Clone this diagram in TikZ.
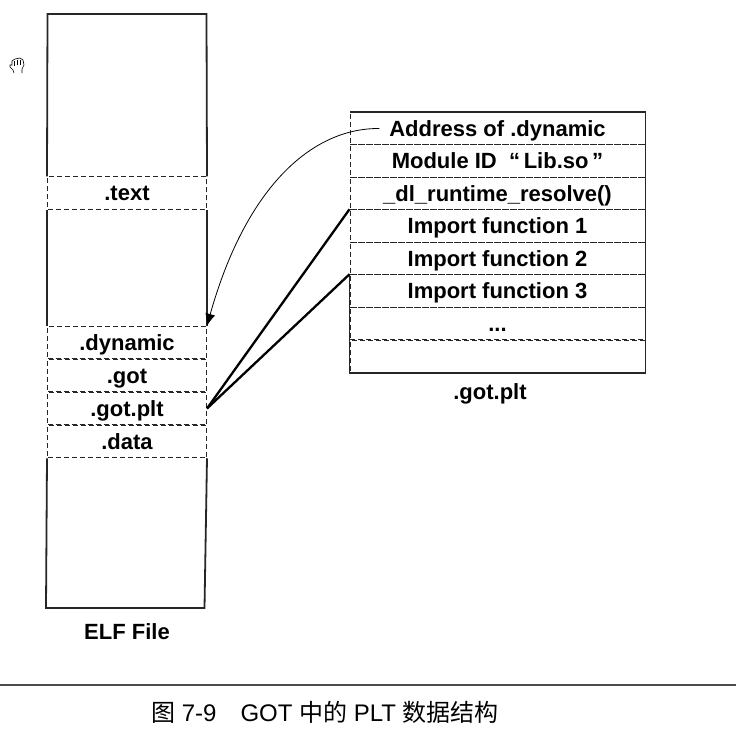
\documentclass[tikz,border=0pt]{standalone}
\usepackage{fontspec}
\usetikzlibrary{arrows.meta}
\setmainfont{Liberation Sans}
\newfontfamily\cjk{Noto Sans CJK SC}
\tikzset{
    title/.style={font=\bfseries\fontsize{22}{22}\selectfont},
    slottext/.style={title, text height=15.5pt, text depth=0pt, inner sep=0pt},
    section/.style={slottext, draw=black!85, dash pattern=on 5pt off 3pt, line width=1pt, minimum width=159pt, minimum height=32.5pt},
    gotslot/.style={slottext, draw=black!85, dash pattern=on 5pt off 3pt, line width=1pt, minimum width=295pt, minimum height=32.5pt},
    frame/.style={draw=black!85, line width=1.8pt},
    link/.style={draw=black, line width=2.3pt},
}
\begin{document}
\begin{tikzpicture}[x=1pt,y=-1pt]
    \useasboundingbox (0,0) rectangle (736,737);
    \begin{scope}
        \node[section] (text) at (127,193) {.text};
        \node[section] (dynamic) at (127,342.5) {.dynamic};
        \node[section] (got) at (127,375.5) {.got};
        \node[section] (gotplt) at (127,408.5) {.got.plt};
        \node[section] (data) at (127,441.5) {.data};
        \node[title] (elflabel) at (127,632) {ELF File};
    \end{scope}
    \begin{scope}
        \node[gotslot] (address) at (497.5,128.5) {};
        \node[slottext, outer sep=10pt] at (497.5,128.5) (addresstext) {Address of .dynamic};
        \node[gotslot] (module) at (497.5,161) {Module ID \ ``\,Lib.so\,''};
        \node[gotslot] (resolve) at (497.5,193.5) {\_dl\_runtime\_resolve()};
        \node[gotslot] (import1) at (497.5,226) {Import function 1};
        \node[gotslot] (import2) at (497.5,258.5) {Import function 2};
        \node[gotslot] (import3) at (497.5,291) {Import function 3};
        \node[gotslot] (dots) at (497.5,323.5) {...};
        \node[gotslot] (empty) at (497.5,356.5) {};
        \node[title] (gotlabel) at (490,394) {.got.plt};
    \end{scope}
    % solid parts of both tables
    \draw[frame] (text.north west) -- (47.5,14) -- (206.5,14) -- (text.north east);
    \draw[frame] (text.south west) -- (dynamic.north west) (text.south east) -- (dynamic.north east);
    \draw[frame] (data.south west) -- (46,608) -- (204.5,608) -- (data.south east);
    \draw[frame] (import3.north west) -- (empty.south west) -- (empty.south east) -- (address.north east) -- (address.north west);
    % links
    \draw[-{Latex[length=12pt,width=10pt]}, line width=0.8pt] (addresstext.west) .. controls (310,128) and (245,190) .. (dynamic.north east);
    \coordinate (gotpltend) at (gotplt.east);
    \draw[link] (gotpltend) -- (import1.north west);
    \draw[link] (gotpltend) -- (import3.north west);
    % hand mark
    \draw[black, line width=0.6pt] (14,73) -- (13,70) -- (10,67) -- (10,65) -- (12,65) -- (12,61) -- (15,59) -- (20,58) -- (23,60) -- (24,65) -- (22,69) -- (22,73);
    \draw[black, line width=0.6pt] (14,66) -- (14,61) (17,65) -- (17,60) (20,65) -- (20,60);
    % caption
    \draw[black!70, line width=1.5pt] (0,685) -- (736,685);
    \node (caption) at (325,712) {\fontsize{24}{24}\selectfont{\cjk 图} 7-9\quad GOT {\cjk 中的} PLT {\cjk 数据结构}};
\end{tikzpicture}
\end{document}
